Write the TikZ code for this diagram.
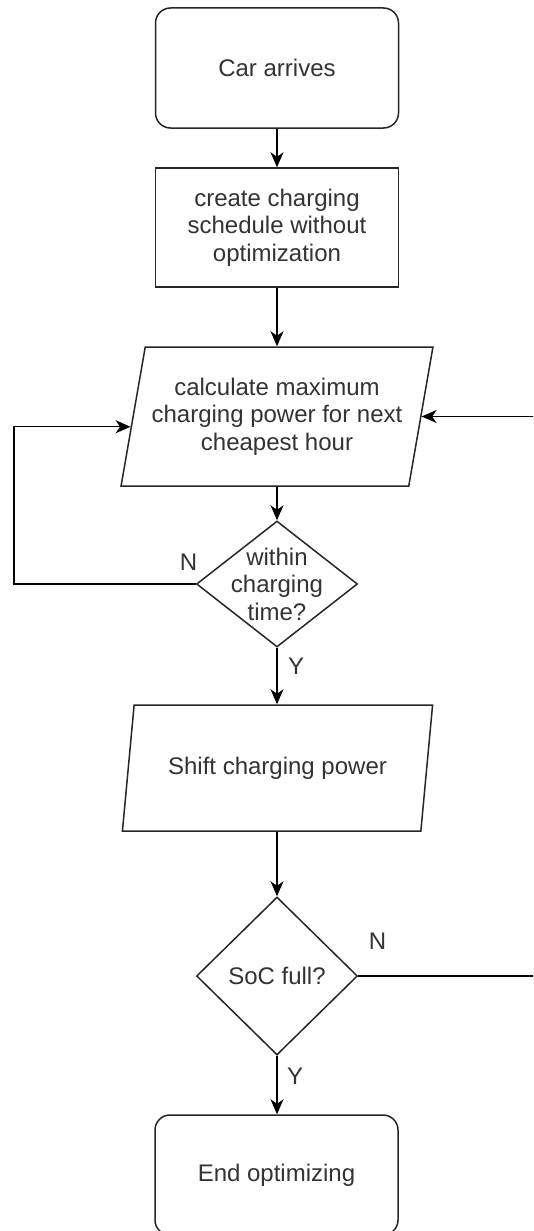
\documentclass[tikz,border=0pt]{standalone}
\usepackage{fontspec}
\setmainfont{Liberation Sans}
\usetikzlibrary{shapes.geometric,arrows.meta}
\begin{document}
\begin{tikzpicture}[x=1pt,y=-1pt,
  every node/.style={font=\fontsize{24}{27.5}\selectfont, text=black!80},
  box/.style={draw=black!85, line width=1.5pt, minimum width=243pt, minimum height=120pt, align=center},
  roundbox/.style={box, rounded corners=15pt},
  para/.style={draw=black!85, line width=1.5pt, trapezium, trapezium stretches=true, align=center},
  dec/.style={draw=black!85, line width=1.5pt, diamond, minimum width=161pt, inner sep=0pt, align=center},
  flow/.style={line width=1.5pt, draw=black, -{Stealth[length=15pt,width=13pt,inset=4.5pt]}},
  yn/.style={inner sep=0pt}
]
\useasboundingbox (0,0) rectangle (533,1231);
\clip (0,0) rectangle (533,1231);
\fill[white] (0,0) rectangle (533,1231);

\node[roundbox] (start) at (277,68) {Car arrives};
\node[box, minimum height=119pt] (create) at (277,227.5) {create charging\\schedule without\\optimization};
\node[para, trapezium left angle=74.3, trapezium right angle=105.7, minimum width=312pt, minimum height=139pt] (calc) at (277,416.5) {calculate maximum\\charging power for next\\cheapest hour};
\node[dec, minimum height=126pt, label={[align=center]center:within\\charging\\time?}] (within) at (277,584) {};
\node[para, trapezium left angle=72.4, trapezium right angle=107.6, minimum width=311pt, minimum height=126pt] (shift) at (277.5,768) {Shift charging power};
\node[dec, minimum height=158pt] (soc) at (277,976) {SoC full?};
\node[roundbox] (stop) at (276.5,1175) {End optimizing};

\node[yn] (n1) at (188.5,562) {N};
\node[yn] (y1) at (296,666) {Y};
\node[yn] (n2) at (377.5,941) {N};
\node[yn] (y2) at (295,1076) {Y};

\coordinate (loopL) at (14,0);
\coordinate (loopR) at (545,0);

\draw[flow] (start.south) -- (create.north);
\draw[flow] (create.south) -- (create.south |- calc.north);
\draw[flow] (within.north |- calc.south) -- (within.north);
\draw[flow] (within.south) -- (within.south |- shift.north);
\draw[flow] (soc.north |- shift.south) -- (soc.north);
\draw[flow] (soc.south) -- (soc.south |- stop.north);
\draw[flow] (within.west) -| (loopL |- calc.184) -- (calc.184);
\draw[flow] (soc.east) -| (loopR |- calc.east) -- (calc.east);
\end{tikzpicture}
\end{document}
